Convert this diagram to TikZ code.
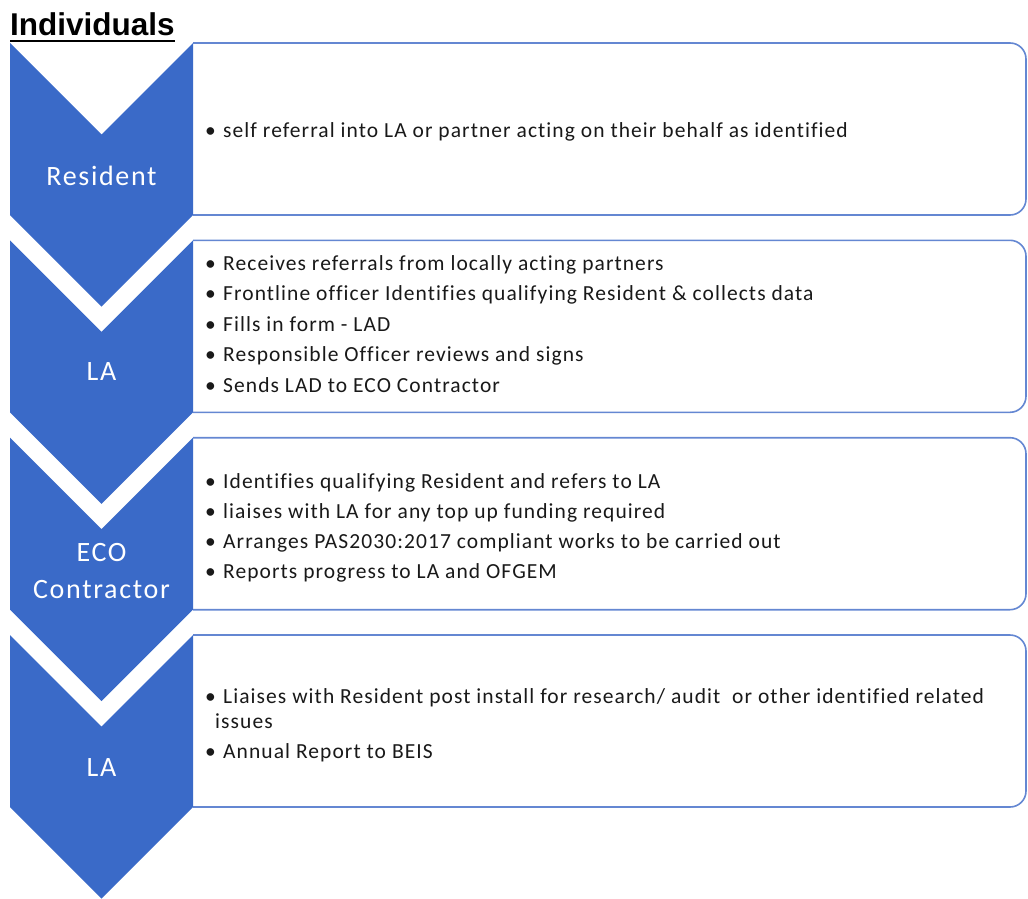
\documentclass[tikz,border=0pt]{standalone}
\usepackage{fontspec}
\setmainfont{Carlito}[LetterSpace=5,Ligatures=NoCommon]
\newfontfamily\titlefont{Liberation Sans}
\newfontfamily\labelfont[LetterSpace=6]{Carlito}
\definecolor{chev}{RGB}{58,106,200}
\definecolor{boxline}{RGB}{100,135,210}
\definecolor{bodytext}{RGB}{25,25,25}
\newcommand\bul{\makebox[18pt][l]{•}}
\begin{document}
\begin{tikzpicture}[x=1pt,y=-1pt,
  chevshape/.style={fill=chev, draw=none},
  panel/.style={draw=boxline, line width=1.6pt, fill=white, rounded corners=16pt},
  chevlabel/.style={text=white, font=\labelfont\fontsize{28}{37}\selectfont, align=center, inner sep=0},
  item/.style={anchor=base west, inner sep=0, text=bodytext, font=\fontsize{21.5}{25}\selectfont},
  titlestyle/.style={anchor=base west, inner sep=0, font=\titlefont\bfseries\fontsize{31.5}{36}\selectfont}]
\useasboundingbox (0,0) rectangle (1028,899);
% panels
\foreach \t in {43,240.3,437.7,635}{
  \draw[panel] (193,\t) -- (1026,\t) -- (1026,\t+172) -- (193,\t+172);
}
% chevrons
\foreach \t in {43,240.3,437.7,635}{
  \fill[chevshape] (10,\t) -- (101.5,\t+91.5) -- (193,\t) -- (193,\t+172) -- (101.5,\t+263.5) -- (10,\t+172) -- cycle;
}
% title
\node[titlestyle] (title) at (10,36) {Individuals};
\draw[line width=2.6pt] ([yshift=-5pt]title.base west) -- ([yshift=-5pt]title.base east);
% chevron labels
\node[chevlabel] (c1) at (101.5,176) {Resident};
\node[chevlabel] (c2) at (101.5,372) {LA};
\node[chevlabel] (c3) at (101.5,571) {ECO\\Contractor};
\node[chevlabel] (c4) at (101.5,768) {LA};
% box 1
\node[item] (a1) at (205,137) {\bul self referral into LA or partner acting on their behalf as identified};
% box 2
\node[item] (b1) at (205,270) {\bul Receives referrals from locally acting partners};
\node[item] (b2) at (205,300.5) {\bul Frontline officer Identifies qualifying Resident \& collects data};
\node[item] (b3) at (205,331) {\bul Fills in form - LAD};
\node[item] (b4) at (205,361.5) {\bul Responsible Officer reviews and signs};
\node[item] (b5) at (205,392) {\bul Sends LAD to ECO Contractor};
% box 3
\node[item] (e1) at (205,488) {\bul Identifies qualifying Resident and refers to LA};
\node[item] (e2) at (205,518) {\bul liaises with LA for any top up funding required};
\node[item] (e3) at (205,548) {\bul Arranges PAS2030:2017 compliant works to be carried out};
\node[item] (e4) at (205,578) {\bul Reports progress to LA and OFGEM};
% box 4
\node[item] (f1) at (205,703) {\bul Liaises with Resident post install for research/ audit\ \ or other identified related};
\node[item] (f2) at (215,728) {issues};
\node[item] (f3) at (205,758) {\bul Annual Report to BEIS};
\end{tikzpicture}
\end{document}
